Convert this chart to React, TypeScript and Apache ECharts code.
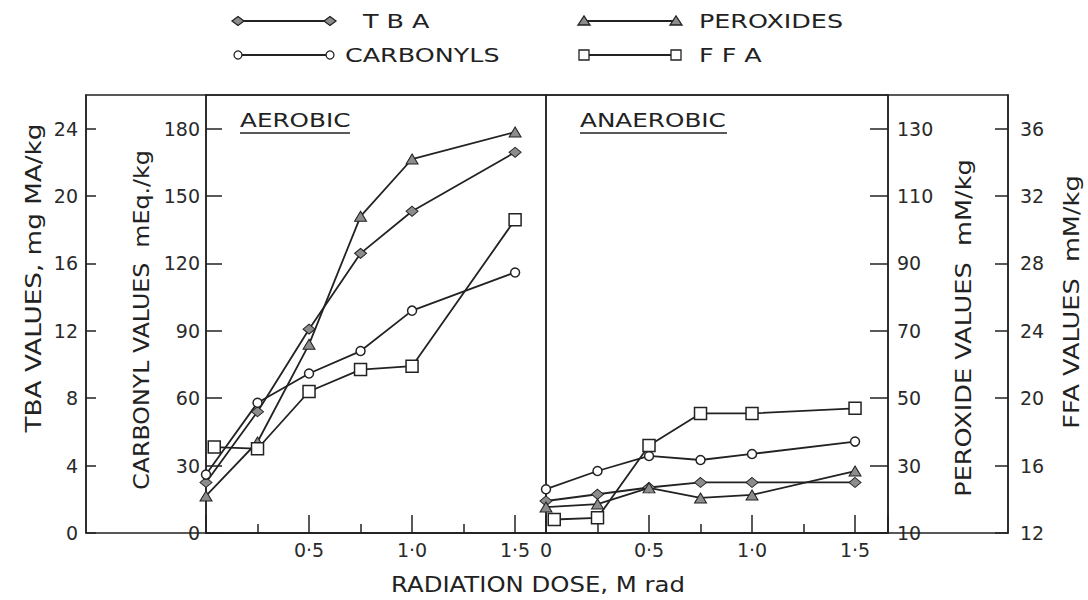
import React, { useEffect, useRef } from 'react';
import * as echarts from 'echarts';

// ---- data ----
const doses = [0, 0.25, 0.5, 0.75, 1.0, 1.5];
const ffaDoses = [0.04, 0.25, 0.5, 0.75, 1.0, 1.5];

const aerobicTBA = [3.0, 7.2, 12.1, 16.6, 19.1, 22.6];
const aerobicCarbonyl = [26, 58, 71, 81, 99, 116];
const aerobicPeroxide = [21, 37, 66, 104, 121, 129];
const aerobicFFA = [17.1, 17.0, 20.4, 21.7, 21.9, 30.6];

const anaerobicTBA = [1.9, 2.3, 2.7, 3.0, 3.0, 3.0];
const anaerobicCarbonyl = [19.5, 27.6, 34.3, 32.5, 35.2, 40.7];
const anaerobicPeroxide = [17.7, 18.6, 23.4, 20.4, 21.3, 28.4];
const anaerobicFFA = [12.8, 12.9, 17.2, 19.1, 19.1, 19.4];

const tbaTicks = [0, 4, 8, 12, 16, 20, 24];
const carbonylTicks = [0, 30, 60, 90, 120, 150, 180];
const peroxideTicks = [10, 30, 50, 70, 90, 110, 130];
const ffaTicks = [12, 16, 20, 24, 28, 32, 36];
const aerobicDoseTicks = [0.5, 1.0, 1.5];
const aerobicDoseLabels = ['0·5', '1·0', '1·5'];
const anaerobicDoseTicks = [0, 0.5, 1.0, 1.5];
const anaerobicDoseLabels = ['0', '0·5', '1·0', '1·5'];

const legendNames = ['T B A', 'CARBONYLS', 'PEROXIDES', 'F F A'];
const panelNames = ['AEROBIC', 'ANAEROBIC'];
const axisNames = ['TBA VALUES, mg MA/kg', 'CARBONYL VALUES  mEq./kg', 'PEROXIDE VALUES  mM/kg', 'FFA VALUES  mM/kg'];
const xName = 'RADIATION DOSE, M rad';

const INK = '#222';
const GREY = '#8c8c8c';
const FONT = 'DejaVu Sans';

function visibleY(gridIndex: number, position: string, offset: number, min: number, max: number, ticks: number[], tickLen: number, margin: number) {
  return {
    type: 'value', gridIndex, position, offset, min, max,
    axisLine: { show: true, onZero: false, lineStyle: { color: INK, width: 1.5 } },
    axisTick: { show: true, inside: true, length: tickLen, customValues: ticks, lineStyle: { color: INK, width: 1.5 } },
    axisLabel: { show: true, customValues: ticks, margin, fontFamily: FONT, fontSize: 19, color: '#2a2a2a' },
    splitLine: { show: false },
  };
}
function hiddenY(gridIndex: number, min: number, max: number) {
  return { type: 'value', gridIndex, min, max, show: false, splitLine: { show: false } };
}
function xAx(gridIndex: number, max: number, ticks: number[], labels: string[]) {
  return {
    type: 'value', gridIndex, min: 0, max, interval: 0.5,
    axisLine: { show: true, onZero: false, lineStyle: { color: INK, width: 1.5 } },
    axisTick: { show: true, inside: true, length: 18, lineStyle: { color: INK, width: 1.5 } },
    minorTick: { show: true, splitNumber: 2, length: 9, lineStyle: { color: INK, width: 1.5 } },
    axisLabel: {
      show: true, customValues: ticks, margin: 7, fontFamily: FONT, fontSize: 19, color: '#2a2a2a',
      formatter: (v: number) => { const i = ticks.findIndex((t) => Math.abs(t - v) < 1e-6); return i >= 0 ? labels[i] : ''; },
    },
    splitLine: { show: false }, minorSplitLine: { show: false },
  };
}

const styles: any = {
  tba: { symbol: 'diamond', symbolSize: [12, 10], itemStyle: { color: GREY, borderColor: INK, borderWidth: 1 } },
  carbonyl: { symbol: 'circle', symbolSize: 9, itemStyle: { color: '#fff', borderColor: INK, borderWidth: 1.5 } },
  peroxide: { symbol: 'triangle', symbolSize: [12, 10], itemStyle: { color: GREY, borderColor: INK, borderWidth: 1 } },
  ffa: { symbol: 'rect', symbolSize: 12, itemStyle: { color: '#fff', borderColor: INK, borderWidth: 1.5 } },
};

function series(name: string, kind: string, xs: number[], ys: number[], xi: number, yi: number) {
  return {
    type: 'line', name, xAxisIndex: xi, yAxisIndex: yi,
    data: xs.map((x, i) => [x, ys[i]]),
    showSymbol: true, showAllSymbol: true, clip: false,
    lineStyle: { color: INK, width: 1.8 },
    ...styles[kind],
  };
}

function marker(kind: string, cx: number, cy: number): any {
  const st = { fill: kind === 'tba' || kind === 'peroxide' ? GREY : '#fff', stroke: INK, lineWidth: 1.3 };
  if (kind === 'tba') return { type: 'polygon', shape: { points: [[cx - 6, cy], [cx, cy - 4.5], [cx + 6, cy], [cx, cy + 4.5]] }, style: st, z: 10 };
  if (kind === 'peroxide') return { type: 'polygon', shape: { points: [[cx - 6, cy + 4], [cx, cy - 5], [cx + 6, cy + 4]] }, style: st, z: 10 };
  if (kind === 'carbonyl') return { type: 'circle', shape: { cx, cy, r: 4 }, style: st, z: 10 };
  return { type: 'rect', shape: { x: cx - 5, y: cy - 5, width: 10, height: 10 }, style: st, z: 10 };
}

function legendItem(kind: string, label: string, x0: number, x1: number, tx: number, y: number): any[] {
  return [
    { type: 'line', shape: { x1: x0, y1: y, x2: x1, y2: y }, style: { stroke: INK, lineWidth: 1.8 }, z: 9 },
    marker(kind, x0, y),
    marker(kind, x1, y),
    { type: 'text', x: tx, y, scaleX: 1.27, style: { text: label, fontFamily: FONT, fontSize: 20, fill: INK, align: 'left', verticalAlign: 'middle' } },
  ];
}

function vText(text: string, x: number, y: number, sx: number): any {
  return { type: 'text', x, y, rotation: Math.PI / 2, scaleX: sx, style: { text, fontFamily: FONT, fontSize: 21, fill: INK, align: 'center', verticalAlign: 'middle' } };
}

export default function App() {
  const ref = useRef<HTMLDivElement>(null);
  useEffect(() => {
    if (!ref.current) return;
    const chart = echarts.init(ref.current, null, { renderer: 'svg' });
    const option: any = {
      animation: false,
      backgroundColor: '#fff',
      grid: [
        { left: 206, top: 95, width: 340, height: 438, show: true, borderColor: INK, borderWidth: 1.5, backgroundColor: 'transparent' },
        { left: 546, top: 95, width: 342, height: 438, show: true, borderColor: INK, borderWidth: 1.5, backgroundColor: 'transparent' },
      ],
      xAxis: [
        xAx(0, 1.65, aerobicDoseTicks, aerobicDoseLabels),
        xAx(1, 1.66, anaerobicDoseTicks, anaerobicDoseLabels),
      ],
      yAxis: [
        visibleY(0, 'left', 120, 0, 26, tbaTicks, 10, 8),
        visibleY(0, 'left', 0, 0, 195, carbonylTicks, 16, 6),
        hiddenY(0, 10, 140),
        hiddenY(0, 12, 38),
        hiddenY(1, 0, 26),
        hiddenY(1, 0, 195),
        visibleY(1, 'right', 0, 10, 140, peroxideTicks, 18, 9),
        visibleY(1, 'right', 120, 12, 38, ffaTicks, 13, 12),
      ],
      series: [
        series('T B A', 'tba', doses, aerobicTBA, 0, 0),
        series('CARBONYLS', 'carbonyl', doses, aerobicCarbonyl, 0, 1),
        series('PEROXIDES', 'peroxide', doses, aerobicPeroxide, 0, 2),
        series('F F A', 'ffa', ffaDoses, aerobicFFA, 0, 3),
        series('T B A', 'tba', doses, anaerobicTBA, 1, 4),
        series('CARBONYLS', 'carbonyl', doses, anaerobicCarbonyl, 1, 5),
        series('PEROXIDES', 'peroxide', doses, anaerobicPeroxide, 1, 6),
        series('F F A', 'ffa', ffaDoses, anaerobicFFA, 1, 7),
      ],
      graphic: [
        { type: 'rect', shape: { x: 86, y: 95, width: 922, height: 438 }, style: { fill: 'none', stroke: INK, lineWidth: 1.5 }, z: 1 },
        ...legendItem('tba', legendNames[0], 238, 330, 363, 21),
        ...legendItem('carbonyl', legendNames[1], 238, 330, 345, 55),
        ...legendItem('peroxide', legendNames[2], 584, 676, 699, 21),
        ...legendItem('ffa', legendNames[3], 584, 676, 699, 55),
        { type: 'text', x: 240, y: 121, scaleX: 1.3, style: { text: panelNames[0], fontFamily: FONT, fontSize: 19, fill: INK, align: 'left', verticalAlign: 'middle' } },
        { type: 'line', shape: { x1: 240, y1: 133, x2: 350, y2: 133 }, style: { stroke: INK, lineWidth: 1.5 } },
        { type: 'text', x: 580, y: 121, scaleX: 1.3, style: { text: panelNames[1], fontFamily: FONT, fontSize: 19, fill: INK, align: 'left', verticalAlign: 'middle' } },
        { type: 'line', shape: { x1: 580, y1: 133, x2: 727, y2: 133 }, style: { stroke: INK, lineWidth: 1.5 } },
        vText(axisNames[0], 34, 278, 1.25),
        vText(axisNames[1], 142, 320, 1.13),
        vText(axisNames[2], 964, 328, 1.22),
        vText(axisNames[3], 1072, 302, 1.22),
        { type: 'text', x: 538, y: 585, scaleX: 1.16, style: { text: xName, fontFamily: FONT, fontSize: 21, fill: INK, align: 'center', verticalAlign: 'middle' } },
      ],
    };
    chart.setOption(option);
    return () => chart.dispose();
  }, []);
  return <div ref={ref} style={{ position: 'fixed', left: 0, top: 0, width: 1088, height: 600 }} />;
}
